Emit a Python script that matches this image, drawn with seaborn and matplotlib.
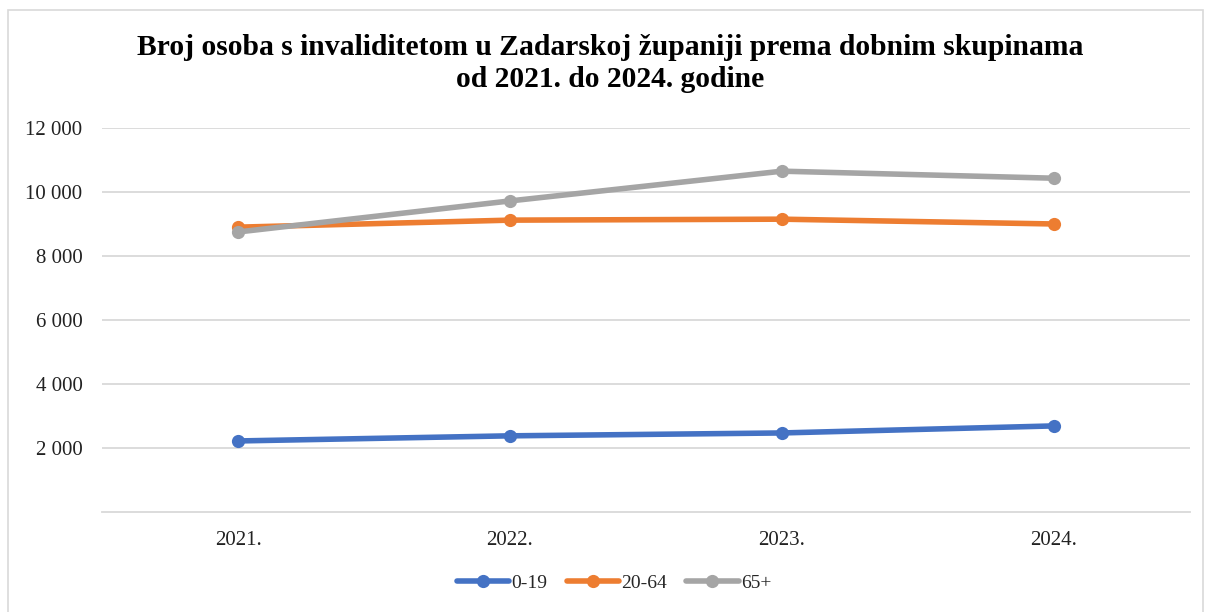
import matplotlib
matplotlib.use("Agg")
import matplotlib.pyplot as plt
import seaborn as sns
import pandas as pd
from matplotlib.patches import Rectangle

years = ["2021.", "2022.", "2023.", "2024."]
series_names = ["0-19", "20-64", "65+"]
v_0_19 = [2220, 2380, 2470, 2690]
v_20_64 = [8900, 9120, 9150, 9000]
v_65 = [8750, 9720, 10650, 10430]
colors = ["#4472C4", "#ED7D31", "#A5A5A5"]
yticks = [2000, 4000, 6000, 8000, 10000, 12000]
ytick_labels = ["2 000", "4 000", "6 000", "8 000", "10 000", "12 000"]
title = "Broj osoba s invaliditetom u Zadarskoj županiji prema dobnim skupinama\nod 2021. do 2024. godine"

rows = []
for name, vals in zip(series_names, [v_0_19, v_20_64, v_65]):
    for i, (y, v) in enumerate(zip(years, vals)):
        rows.append({"pos": i, "year": y, "value": v, "group": name})
df = pd.DataFrame(rows)

sns.set_theme(style="white")
plt.rcParams["font.family"] = ["Liberation Serif", "DejaVu Serif"]

fig = plt.figure(figsize=(12.06, 6.12), dpi=100)
ax = fig.add_axes([0.0846, 0.1634, 0.902, 0.6275])

sns.lineplot(data=df, x="pos", y="value", hue="group", hue_order=series_names,
             palette=colors, marker="o", markersize=9.5, markeredgewidth=0,
             linewidth=4, ax=ax, legend=True)

ax.set_xlim(-0.5, 3.5)
ax.set_ylim(0, 12000)
ax.set_xticks(range(len(years)))
ax.set_xticklabels(years, fontsize=15)
ax.set_yticks(yticks)
ax.set_yticklabels(ytick_labels, fontsize=15)
ax.tick_params(axis="both", length=0, colors="#222222")
ax.tick_params(axis="x", pad=14)
ax.tick_params(axis="y", pad=14)
ax.yaxis.grid(True, color="#D9D9D9", linewidth=1.3)
ax.set_axisbelow(True)
for s in ["top", "right", "left"]:
    ax.spines[s].set_visible(False)
ax.spines["bottom"].set_color("#D9D9D9")
ax.spines["bottom"].set_linewidth(1.3)
ax.set_xlabel("")
ax.set_ylabel("")

fig.text(0.506, 0.896, title, ha="center", va="center", fontsize=21.3,
         fontweight="bold", linespacing=1.24, color="#000000")

handles, labels = ax.get_legend_handles_labels()
ax.legend(handles, labels, loc="center", bbox_to_anchor=(0.509, 0.047),
          bbox_transform=fig.transFigure, ncol=3, frameon=False,
          fontsize=14, handlelength=2.7, columnspacing=1.0, handletextpad=0.1)

fig.patches.append(Rectangle((8 / 1206, -0.01), (1203 - 8) / 1206, 1 - 10 / 612 + 0.01,
                             transform=fig.transFigure, fill=False,
                             edgecolor="#D9D9D9", linewidth=1.2))

fig.savefig("out.png", dpi=100)
